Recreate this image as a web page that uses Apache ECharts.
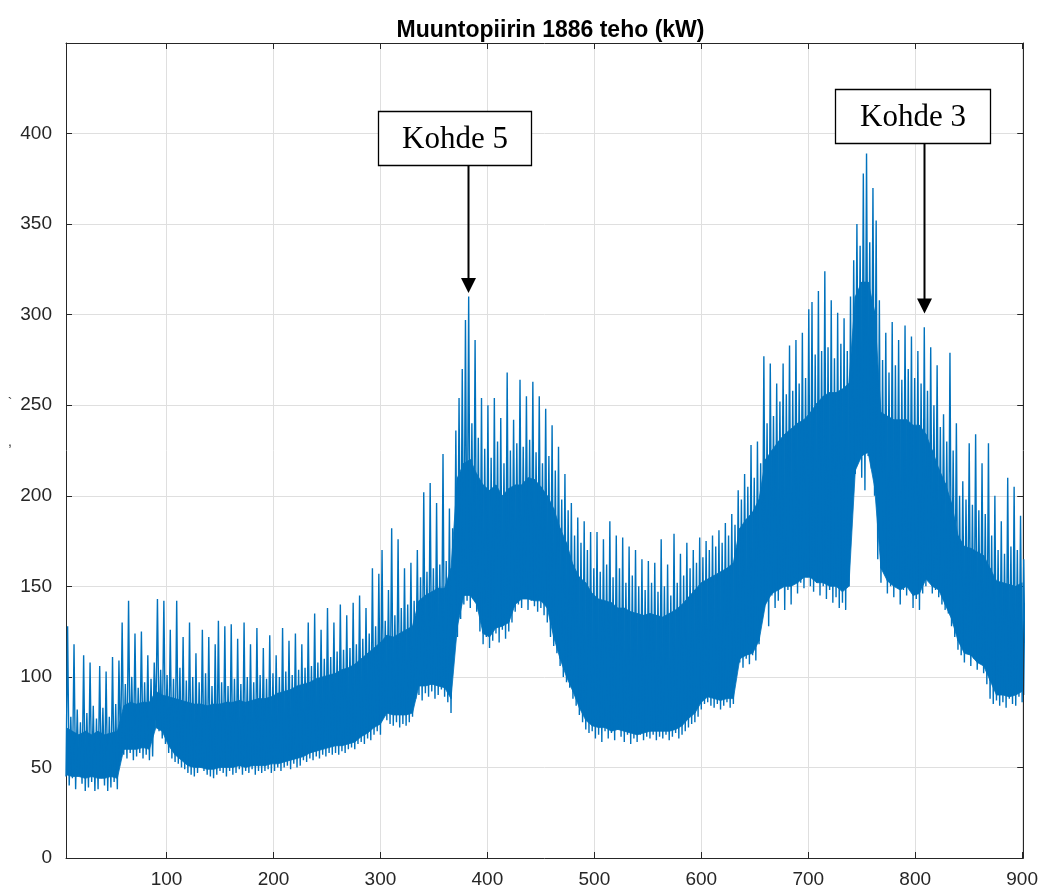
<!DOCTYPE html>
<html><head><meta charset="utf-8">
<script src="https://cdn.jsdelivr.net/npm/echarts@6/dist/echarts.min.js"></script>
<style>html,body{margin:0;padding:0;background:#fff}#c{width:1041px;height:893px}</style>
</head><body><div id="c"></div>
<script>
const TITLE = 'Muuntopiirin 1886 teho (kW)';
// Raw trace: one low and one high reading per X_STEP units of x
const X_START = 6, X_STEP = 3;
const lows = [
45,40,44,38,46,41,37,39,42,37,
38,44,40,37,39,42,38,56,57,55,
58,54,56,58,55,57,54,56,76,70,
66,63,58,55,53,52,50,49,47,46,
45,47,50,48,46,45,44,46,48,47,
45,48,46,47,49,46,48,47,49,46,
48,47,48,49,47,48,50,48,50,51,
49,52,50,51,54,53,55,54,56,55,
57,56,58,57,58,57,59,58,60,61,
60,63,64,63,66,65,68,70,68,78,
76,74,73,75,72,74,73,75,78,88,
90,87,91,89,92,88,90,93,89,86,
80,116,122,132,140,142,138,144,136,125,
118,122,116,120,124,119,126,121,125,130,
136,140,138,143,137,142,139,136,138,134,
130,122,117,113,106,100,97,94,88,84,
79,75,71,69,70,66,68,64,70,66,
69,65,71,67,64,68,63,66,64,68,
65,67,66,68,65,67,66,68,65,67,
69,66,68,70,72,74,75,78,82,85,
86,84,83,85,82,84,86,83,85,106,
108,105,110,107,112,109,118,132,140,128,
145,138,142,150,137,148,140,155,146,152,
149,155,150,147,152,145,150,143,148,141,
144,138,141,137,150,194,212,225,210,203,
222,215,200,165,152,160,146,150,144,155,
140,148,145,152,138,143,137,146,150,154,
146,148,144,140,137,135,128,122,115,112,
108,114,106,110,104,108,102,96,88,85,
87,84,86,83,88,85,84,89,86,90
];
const highs = [
128,78,118,82,75,112,80,108,84,77,
106,83,103,78,111,85,109,130,96,142,
100,124,94,125,97,112,99,108,143,104,
142,101,126,99,142,105,122,98,130,100,
113,97,126,102,122,95,118,131,97,128,
95,129,99,121,96,130,100,118,97,127,
101,116,99,123,102,112,100,127,103,120,
101,124,104,118,105,130,106,135,108,126,
110,138,111,130,114,140,115,134,116,141,
118,145,121,138,124,160,128,157,170,131,
148,182,134,176,138,160,140,163,142,170,
155,202,158,207,160,196,162,223,164,193,
182,236,254,270,297,310,240,286,232,254,
226,250,221,254,230,243,218,268,225,242,
229,264,227,255,231,263,224,255,218,248,
222,239,214,227,198,212,192,196,178,188,
174,186,170,180,160,180,158,176,162,186,
155,178,160,177,152,172,156,170,150,165,
148,164,152,163,147,176,150,162,145,179,
152,168,156,174,160,170,163,177,166,175,
170,178,172,181,174,185,178,190,184,203,
198,212,205,228,210,230,218,277,240,273,
244,262,252,273,256,283,258,286,262,290,
265,303,307,278,313,280,324,282,308,276,
301,284,298,280,310,330,350,338,378,389,
340,370,352,308,275,290,268,296,272,286,
264,294,270,288,265,280,262,293,258,282,
250,272,238,245,230,279,225,240,200,208,
198,229,195,234,192,218,190,229,178,200,
170,186,168,210,172,205,170,189,165,175
];
// Dense core of the trace (where readings overlap solidly), every CORE_STEP units
const CORE_START = 6, CORE_STEP = 6;
const coreLo = [
46,45,45,44,45,44,44,45,44,60,
60,60,61,60,72,70,62,57,54,51,
50,50,49,49,50,50,50,51,50,51,
51,51,52,52,53,54,55,56,58,59,
60,61,62,62,63,64,67,69,72,74,
80,79,79,79,80,95,95,96,95,94,
88,128,145,145,140,124,122,127,128,130,
140,143,143,142,142,138,122,110,100,92,
83,76,73,72,72,70,71,70,69,68,
69,70,70,70,70,71,73,77,80,86,
89,88,87,88,88,110,112,113,120,140,
146,148,150,150,152,155,155,152,152,150,
150,147,150,214,222,224,205,160,153,150,
148,150,145,146,154,150,148,140,132,120,
113,112,108,106,98,90,90,89,90,92
];
const coreHi = [
72,70,68,70,68,70,68,69,70,84,
86,85,86,86,92,90,89,88,87,86,
85,85,84,85,85,86,86,87,86,87,
88,88,89,91,92,93,95,96,97,99,
100,101,102,104,105,107,110,113,116,119,
123,122,124,126,128,142,145,147,149,149,
160,210,218,220,212,206,203,206,200,204,
206,206,210,209,205,200,193,182,174,162,
155,152,146,143,142,141,138,138,136,135,
134,135,134,133,135,137,140,144,148,152,
154,156,158,160,163,182,187,191,198,220,
225,230,234,237,240,242,246,251,255,257,
257,259,262,310,318,318,302,246,244,242,
242,242,239,239,234,225,215,207,196,178,
172,171,169,167,160,153,152,151,150,152
];
const xTicks = [100,200,300,400,500,600,700,800,900];
const yTicks = [0,50,100,150,200,250,300,350,400];
const X_MIN = 6, X_MAX = 901, Y_MIN = 0, Y_MAX = 450;
const annotations = [
  {text: 'Kohde 5', x: 382, y: 312, boxTop: 412.5, dx: 90, w: 153},
  {text: 'Kohde 3', x: 808.5, y: 300.7, boxTop: 424.6, dx: 89, w: 155}
];

const data = [];
for (let i = 0; i < lows.length; i++) {
  const x0 = X_START + i * X_STEP;
  data.push([x0, lows[i]]);
  data.push([x0 + X_STEP / 2, highs[i]]);
}
const coreData = [];
for (let j = 0; j < coreLo.length; j++) {
  coreData.push([CORE_START + j * CORE_STEP, coreLo[j], coreHi[j]]);
}

const BLUE = '#0072BD';
const AX = '#262626', GRID = '#dfdfdf';
const FONT = '"Liberation Sans", Arial, Helvetica, sans-serif';
const chart = echarts.init(document.getElementById('c'), null, {renderer: 'canvas'});
const option = {
  animation: false,
  backgroundColor: '#fff',
  title: {text: TITLE, left: 545.5, top: 14, textAlign: 'center',
    textStyle: {fontFamily: FONT, fontWeight: 'bold', fontSize: 23, color: '#000'}},
  grid: {left: 66, right: 16, top: 43, bottom: 35, containLabel: false},
  xAxis: [
    {type: 'value', min: X_MIN, max: X_MAX, splitNumber: 9, position: 'bottom',
     axisLine: {show: true, onZero: false, lineStyle: {color: AX, width: 1}},
     axisTick: {show: true, inside: true, length: 6, customValues: xTicks, lineStyle: {color: AX}},
     axisLabel: {customValues: xTicks, color: AX, fontSize: 19, fontFamily: FONT, margin: 12},
     splitLine: {show: true, lineStyle: {color: GRID, width: 1}}},
    {type: 'value', min: X_MIN, max: X_MAX, splitNumber: 9, position: 'top',
     axisLine: {show: true, onZero: false, lineStyle: {color: AX, width: 1}},
     axisTick: {show: true, inside: true, length: 6, customValues: xTicks, lineStyle: {color: AX}},
     axisLabel: {show: false}, splitLine: {show: false}}
  ],
  yAxis: [
    {type: 'value', min: Y_MIN, max: Y_MAX, interval: 50, position: 'left',
     axisLine: {show: true, onZero: false, lineStyle: {color: AX, width: 1}},
     axisTick: {show: true, inside: true, length: 6, customValues: yTicks, lineStyle: {color: AX}},
     axisLabel: {customValues: yTicks, color: AX, fontSize: 19, fontFamily: FONT, margin: 14},
     splitLine: {show: true, lineStyle: {color: GRID, width: 1}}},
    {type: 'value', min: Y_MIN, max: Y_MAX, interval: 50, position: 'right',
     axisLine: {show: true, onZero: false, lineStyle: {color: AX, width: 1}},
     axisTick: {show: true, inside: true, length: 6, customValues: yTicks, lineStyle: {color: AX}},
     axisLabel: {show: false}, splitLine: {show: false}}
  ],
  series: [
    {type: 'custom', name: 'core', data: coreData, silent: true, clip: true, z: 2,
     encode: {x: 0, y: [1, 2]},
     renderItem: function (params, api) {
       const j = params.dataIndex;
       if (j >= coreData.length - 1) return null;
       const x0 = api.value(0), lo0 = api.value(1), hi0 = api.value(2);
       const nxt = coreData[j + 1];
       const pts = [api.coord([x0, lo0]), api.coord([nxt[0], nxt[1]]),
                    api.coord([nxt[0], nxt[2]]), api.coord([x0, hi0])];
       return {type: 'polygon', shape: {points: pts},
               style: {fill: BLUE, stroke: BLUE, lineWidth: 0.8}};
     }},
    {type: 'line', name: 'trace', data: data, showSymbol: false, symbol: 'none', sampling: null,
     silent: true, clip: true, lineStyle: {width: 1.4, color: BLUE}, z: 3}
  ]
};
chart.setOption(option);

const g = [];
annotations.forEach(function (a) {
  const tip = chart.convertToPixel({gridIndex: 0}, [a.x, a.y]);
  const top = chart.convertToPixel({gridIndex: 0}, [a.x, a.boxTop]);
  const ax = Math.round(tip[0]) + 0.5;
  const boxL = Math.round(tip[0] - a.dx) + 0.5, boxT = Math.round(top[1]) + 0.5, h = 54;
  g.push({type: 'line', z: 100, shape: {x1: ax, y1: boxT + h, x2: ax, y2: tip[1] - 14},
    style: {stroke: '#000', lineWidth: 2}});
  g.push({type: 'polygon', z: 100, shape: {points: [[ax - 7.5, tip[1] - 15], [ax + 7.5, tip[1] - 15], [ax, tip[1]]]},
    style: {fill: '#000'}});
  g.push({type: 'rect', z: 101, shape: {x: boxL, y: boxT, width: a.w, height: h},
    style: {fill: '#fff', stroke: '#000', lineWidth: 1.3}});
  g.push({type: 'text', z: 102, style: {text: a.text, x: boxL + a.w / 2, y: boxT + h / 2 + 1,
    align: 'center', verticalAlign: 'middle', font: '31px "Liberation Serif", "Times New Roman", serif', fill: '#000'}});
});
g.push({type: 'text', z: 50, style: {text: '`', x: 10, y: 404, align: 'center', verticalAlign: 'middle', font: '14px ' + FONT, fill: '#333'}});
g.push({type: 'text', z: 50, style: {text: ',', x: 10, y: 442, align: 'center', verticalAlign: 'middle', font: '14px ' + FONT, fill: '#333'}});
chart.setOption({graphic: g});
</script>
</body></html>
